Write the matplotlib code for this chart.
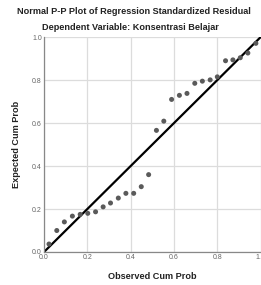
import matplotlib
matplotlib.use('Agg')
import matplotlib.pyplot as plt

plt.rcParams['font.family'] = ['Liberation Sans', 'DejaVu Sans']

# observed vs expected cumulative probabilities
observed = [0.023, 0.059, 0.094, 0.131, 0.167, 0.202, 0.238, 0.273, 0.307, 0.343,
            0.378, 0.414, 0.449, 0.483, 0.519, 0.553, 0.589, 0.625, 0.660, 0.696,
            0.731, 0.767, 0.800, 0.838, 0.872, 0.906, 0.941, 0.978]
expected = [0.037, 0.100, 0.140, 0.167, 0.175, 0.180, 0.187, 0.210, 0.228, 0.251,
            0.273, 0.273, 0.304, 0.360, 0.566, 0.609, 0.710, 0.729, 0.738, 0.785,
            0.795, 0.801, 0.815, 0.890, 0.894, 0.904, 0.926, 0.971]
ticks = [0.0, 0.2, 0.4, 0.6, 0.8, 1.0]

fig = plt.figure(figsize=(2.61, 2.85), dpi=100)
ax = fig.add_axes([0.1686, 0.1158, 0.83, 0.754])

ax.plot([0, 1], [0, 1], color='black', linewidth=1.6, zorder=2)
ax.scatter(observed, expected, s=13, color='#5a5a5a', edgecolors='none', zorder=3)

ax.set_xlim(0, 1)
ax.set_ylim(0, 1)
ax.set_xticks(ticks)
ax.set_yticks(ticks)
ax.set_xticklabels([f'{t:.1f}' for t in ticks])
ax.set_yticklabels([f'{t:.1f}' for t in ticks])
ax.grid(True, color='#dcdcdc', linewidth=0.9)
ax.set_axisbelow(True)
ax.tick_params(labelsize=5, colors='#666666', length=0, pad=1.5)
for s in ['top', 'right']:
    ax.spines[s].set_visible(False)
for s in ['left', 'bottom']:
    ax.spines[s].set_color('#888888')
    ax.spines[s].set_linewidth(0.9)

ax.set_xlabel('Observed Cum Prob', fontsize=6.6, fontweight='bold', color='#222222', labelpad=8)
ax.set_ylabel('Expected Cum Prob', fontsize=6.6, fontweight='bold', color='#222222', labelpad=8)

fig.text(0.515, 0.96, 'Normal P-P Plot of Regression Standardized Residual',
         ha='center', va='center', fontsize=6.6, fontweight='bold', color='#222222')
fig.text(0.5, 0.902, 'Dependent Variable: Konsentrasi Belajar',
         ha='center', va='center', fontsize=6.6, fontweight='bold', color='#222222')

fig.savefig('out.png', dpi=100)
